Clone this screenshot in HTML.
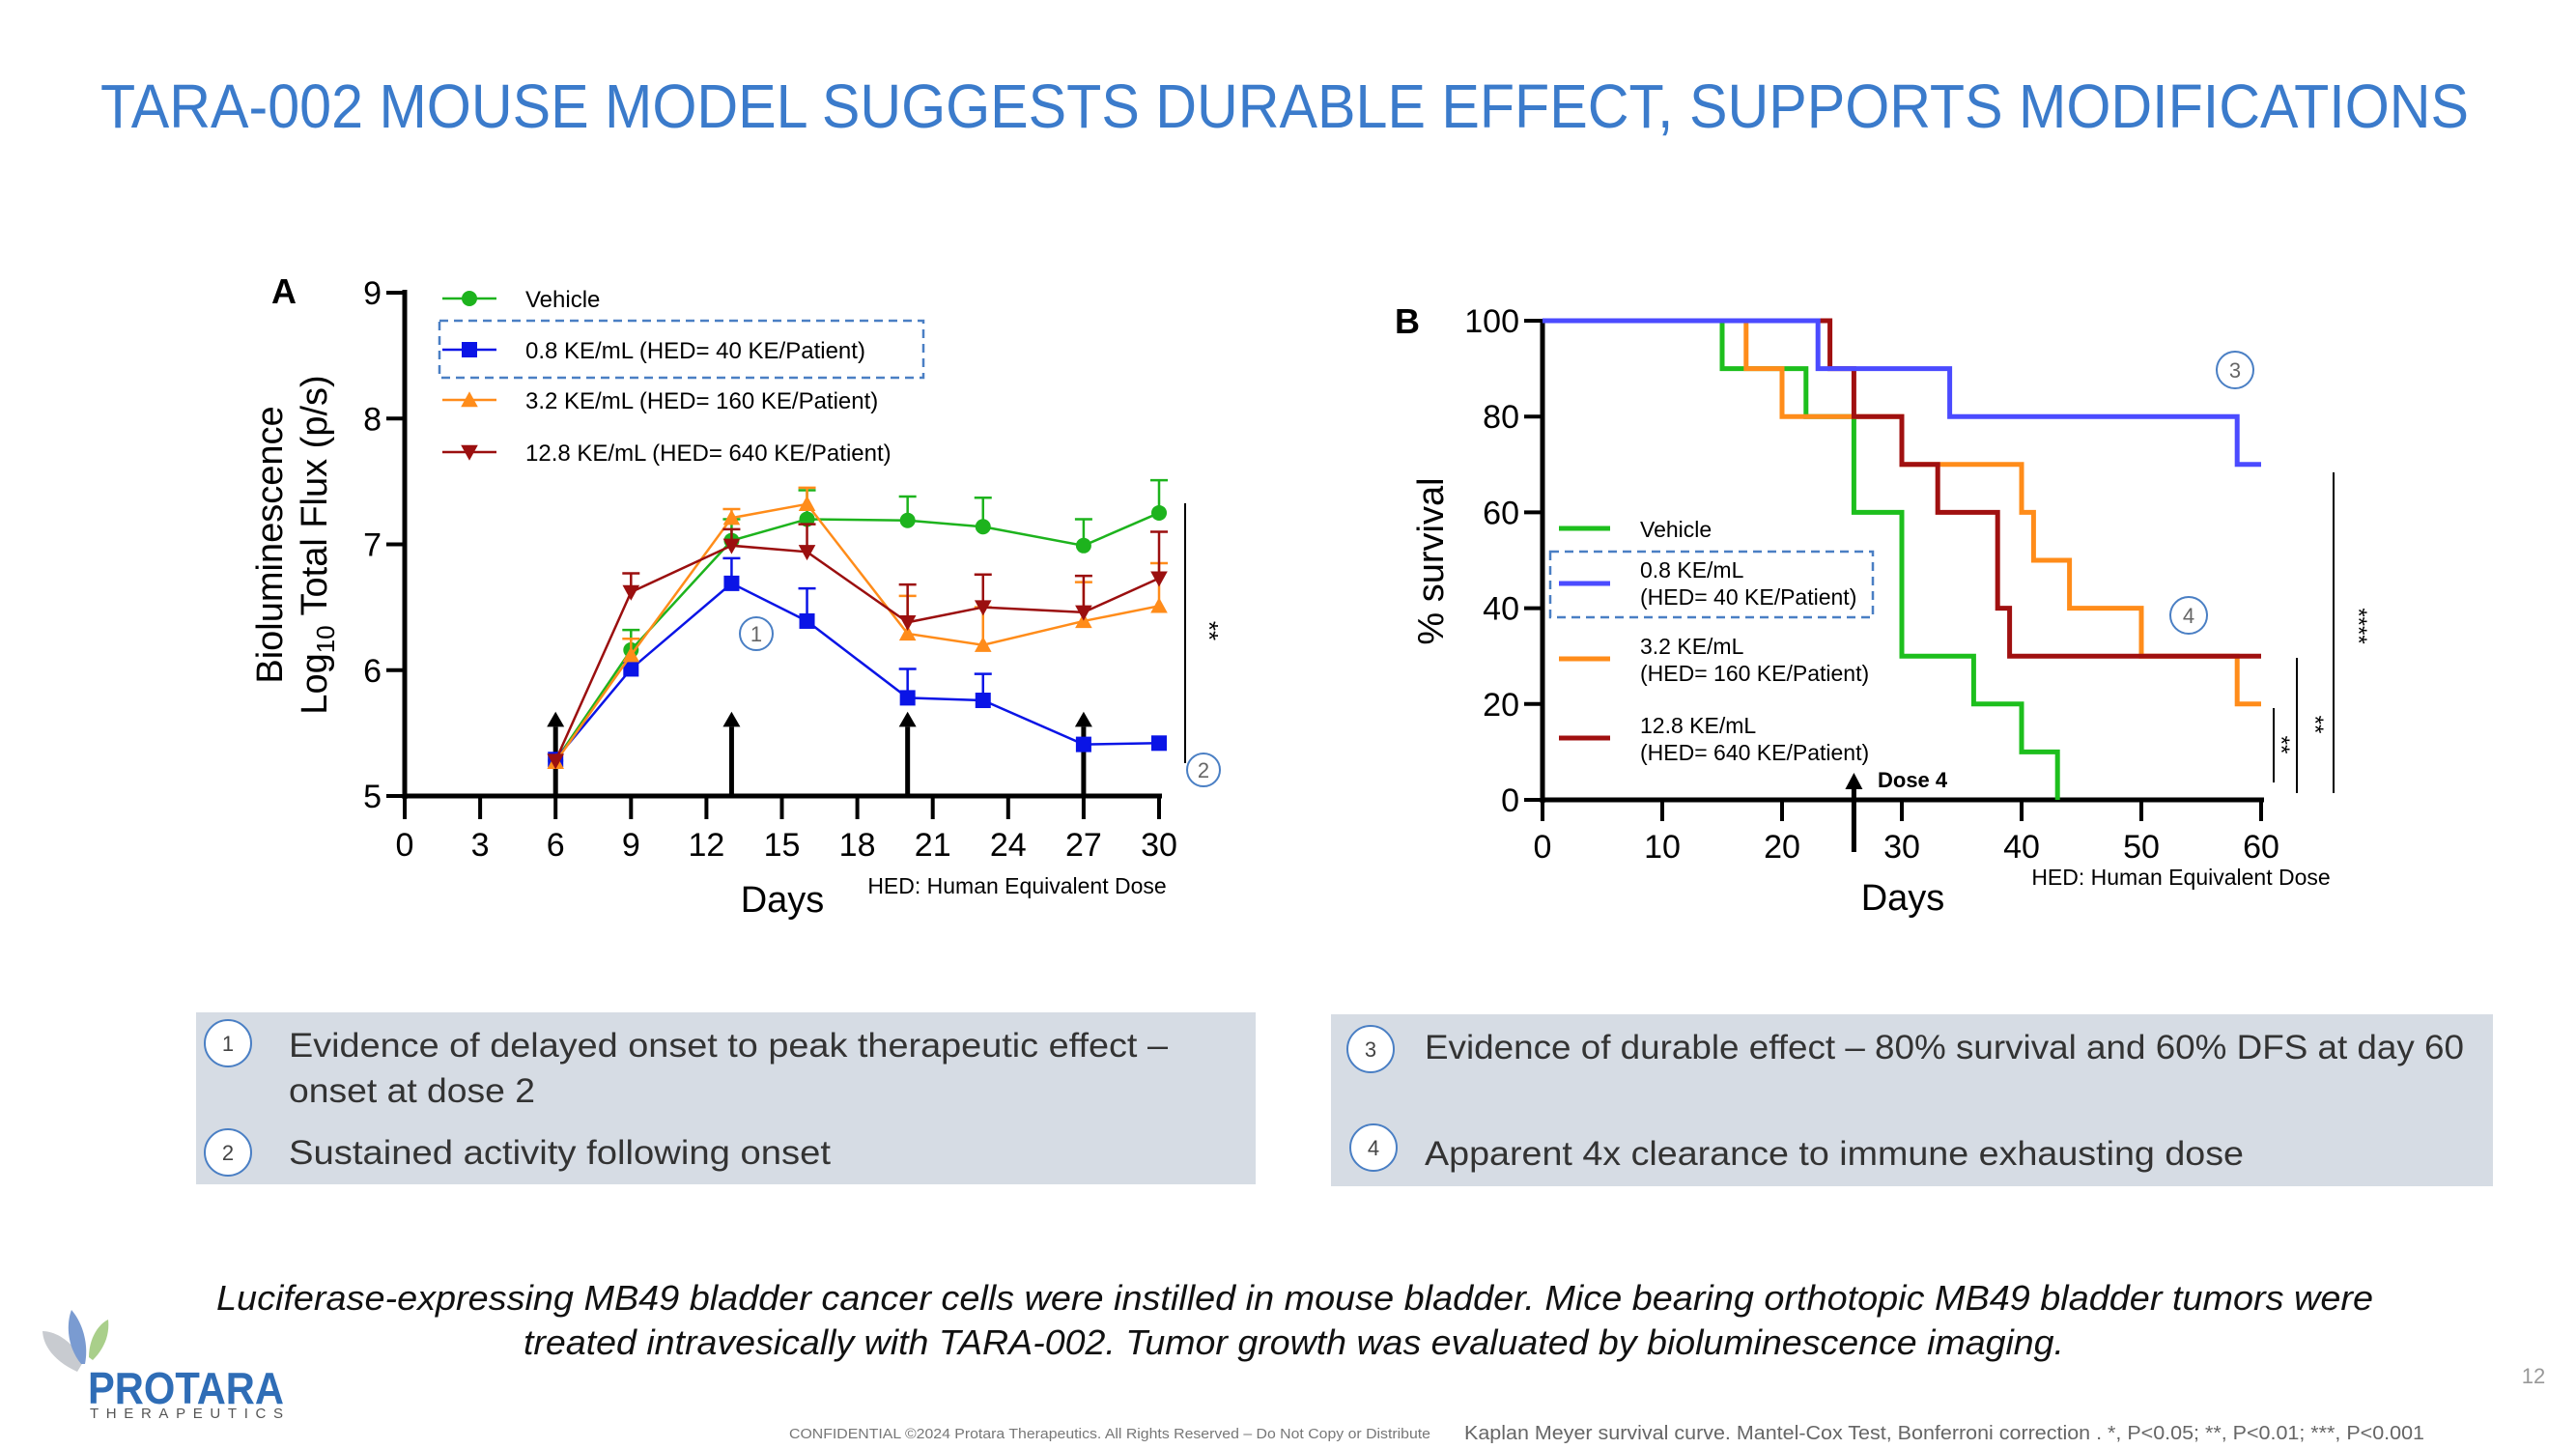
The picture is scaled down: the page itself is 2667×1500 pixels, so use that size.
<!DOCTYPE html>
<html><head><meta charset="utf-8"><style>
html,body{margin:0;padding:0;background:#fff;}
svg{display:block;font-family:"Liberation Sans",sans-serif;}
</style></head><body>
<svg id="page" width="2667" height="1500" viewBox="0 0 2667 1500" xmlns="http://www.w3.org/2000/svg">
<text x="104" y="132" font-size="64" fill="#3b7bcb" textLength="2452" lengthAdjust="spacingAndGlyphs">TARA-002 MOUSE MODEL SUGGESTS DURABLE EFFECT, SUPPORTS MODIFICATIONS</text>

<g id="chartA"></g>
<g id="chartB"></g>

<g>
<rect x="203" y="1048" width="1097" height="178" fill="#d6dce4"/>
<circle cx="236" cy="1080" r="24" fill="#fff" stroke="#4a7fc4" stroke-width="2"/>
<text x="236" y="1088" font-size="22" text-anchor="middle" fill="#444">1</text>
<text x="299" y="1094" font-size="35" fill="#333" textLength="910" lengthAdjust="spacingAndGlyphs">Evidence of delayed onset to peak therapeutic effect –</text>
<text x="299" y="1141" font-size="35" fill="#333" textLength="255" lengthAdjust="spacingAndGlyphs">onset at dose 2</text>
<circle cx="236" cy="1193" r="24" fill="#fff" stroke="#4a7fc4" stroke-width="2"/>
<text x="236" y="1201" font-size="22" text-anchor="middle" fill="#444">2</text>
<text x="299" y="1205" font-size="35" fill="#333" textLength="561" lengthAdjust="spacingAndGlyphs">Sustained activity following onset</text>
</g>
<g>
<rect x="1378" y="1050" width="1203" height="178" fill="#d6dce4"/>
<circle cx="1419" cy="1086" r="24" fill="#fff" stroke="#4a7fc4" stroke-width="2"/>
<text x="1419" y="1094" font-size="22" text-anchor="middle" fill="#444">3</text>
<text x="1475" y="1096" font-size="35" fill="#333" textLength="1076" lengthAdjust="spacingAndGlyphs">Evidence of durable effect – 80% survival and 60% DFS at day 60</text>
<circle cx="1422" cy="1188" r="24" fill="#fff" stroke="#4a7fc4" stroke-width="2"/>
<text x="1422" y="1196" font-size="22" text-anchor="middle" fill="#444">4</text>
<text x="1475" y="1206" font-size="35" fill="#333" textLength="848" lengthAdjust="spacingAndGlyphs">Apparent 4x clearance to immune exhausting dose</text>
</g>

<text x="224" y="1356" font-size="36" font-style="italic" fill="#111" textLength="2233" lengthAdjust="spacingAndGlyphs">Luciferase-expressing MB49 bladder cancer cells were instilled in mouse bladder. Mice bearing orthotopic MB49 bladder tumors were</text>
<text x="542" y="1402" font-size="36" font-style="italic" fill="#111" textLength="1595" lengthAdjust="spacingAndGlyphs">treated intravesically with TARA-002. Tumor growth was evaluated by bioluminescence imaging.</text>

<g>
<path d="M80 1420 C58 1410 45 1395 44 1378 C60 1378 78 1392 86 1410 Z" fill="#c8cbd0"/>
<path d="M84 1412 C70 1395 68 1372 74 1356 C86 1370 92 1392 88 1412 Z" fill="#7a9bd1"/>
<path d="M92 1405 C92 1388 100 1372 112 1366 C114 1384 106 1398 96 1408 Z" fill="#a9cf8a"/>
<text x="91" y="1453" font-size="46" fill="#2f6db6" font-weight="bold" textLength="203" lengthAdjust="spacingAndGlyphs">PROTARA</text>
<text x="93" y="1468" font-size="15" fill="#555" textLength="200" lengthAdjust="spacing">THERAPEUTICS</text>
</g>
<text x="2623" y="1432" font-size="22" fill="#999" text-anchor="middle">12</text>
<text x="817" y="1489" font-size="15" fill="#777" textLength="664" lengthAdjust="spacingAndGlyphs">CONFIDENTIAL ©2024 Protara Therapeutics. All Rights Reserved – Do Not Copy or Distribute</text>
<text x="1516" y="1490" font-size="20" fill="#666" textLength="994" lengthAdjust="spacingAndGlyphs">Kaplan Meyer survival curve. Mantel-Cox Test, Bonferroni correction . *, P&lt;0.05; **, P&lt;0.01; ***, P&lt;0.001</text>
</svg>
<script>
// ---------- Chart A data ----------
const daysA = [6, 9, 13, 16, 20, 23, 27, 30];
const vehicleMean = [5.28, 6.16, 7.03, 7.20, 7.19, 7.14, 6.99, 7.25];
const vehicleErr  = [5.28, 6.32, 7.20, 7.43, 7.38, 7.37, 7.20, 7.51];
const lowMean     = [5.29, 6.01, 6.69, 6.39, 5.78, 5.76, 5.41, 5.42];
const lowErr      = [5.29, 6.01, 6.89, 6.65, 6.01, 5.97, 5.41, 5.42];
const midMean     = [5.27, 6.12, 7.21, 7.32, 6.29, 6.20, 6.39, 6.51];
const midErr      = [5.27, 6.25, 7.28, 7.45, 6.59, 6.50, 6.70, 6.85];
const highMean    = [5.28, 6.62, 6.99, 6.94, 6.38, 6.50, 6.46, 6.73];
const highErr     = [5.28, 6.77, 7.12, 7.16, 6.68, 6.76, 6.75, 7.10];
const doseDays = [6, 13, 20, 27];
const xTicksA = [0, 3, 6, 9, 12, 15, 18, 21, 24, 27, 30];
const yTicksA = [5, 6, 7, 8, 9];
// ---------- Chart B data ----------
const vehTimes = [0, 15, 22, 26, 30, 36, 40, 43];
const vehSurv  = [100, 90, 80, 60, 30, 20, 10, 0];
const lowTimes = [0, 23, 34, 58, 60];
const lowSurv  = [100, 90, 80, 70, 70];
const midTimes = [0, 17, 20, 30, 40, 41, 44, 50, 58, 60];
const midSurv  = [100, 90, 80, 70, 60, 50, 40, 30, 20, 20];
const highTimes = [0, 24, 26, 30, 33, 38, 39, 60];
const highSurv  = [100, 90, 80, 70, 60, 40, 30, 30];
const xTicksB = [0, 10, 20, 30, 40, 50, 60];
const yTicksB = [0, 20, 40, 60, 80, 100];

const NS = "http://www.w3.org/2000/svg";
function mk(parent, tag, attrs, txt) {
  const e = document.createElementNS(NS, tag);
  for (const k in attrs) e.setAttribute(k, attrs[k]);
  if (txt !== undefined) e.textContent = txt;
  parent.appendChild(e);
  return e;
}

// ---------- Chart A ----------
(function () {
  const g = document.getElementById('chartA');
  const xA = d => 419 + d * (1200 - 419) / 30;
  const yA = v => 824 - (v - 5) * (824 - 303) / 4;
  let t = mk(g, 'text', {x: 294, y: 314, 'font-size': 36, 'font-weight': 'bold', 'text-anchor': 'middle'}, 'A');
  
  
  let ax = mk(g, 'line', {x1: 419, y1: 300, x2: 419, y2: 827, stroke: '#000', 'stroke-width': 5});
  
  
  ax = mk(g, 'line', {x1: 417, y1: 824, x2: 1203, y2: 824, stroke: '#000', 'stroke-width': 5});
  
  
  yTicksA.forEach(v => {
    mk(g, 'line', {x1: 400, y1: yA(v), x2: 419, y2: yA(v), stroke: '#000', 'stroke-width': 4});
    const l = mk(g, 'text', {x: 395, y: yA(v) + 12, 'font-size': 34, 'text-anchor': 'end'}, String(v));
    
    
  });
  xTicksA.forEach(v => {
    mk(g, 'line', {x1: xA(v), y1: 824, x2: xA(v), y2: 848, stroke: '#000', 'stroke-width': 4});
    const l = mk(g, 'text', {x: xA(v), y: 886, 'font-size': 34, 'text-anchor': 'middle'}, String(v));
    
    
  });
  t = mk(g, 'text', {x: 810, y: 944, 'font-size': 38, 'text-anchor': 'middle'}, 'Days');
  
  
  t = mk(g, 'text', {x: 1053, y: 925, 'font-size': 23, 'text-anchor': 'middle'}, 'HED: Human Equivalent Dose');
  
  
  t = mk(g, 'text', {x: 0, y: 0, 'font-size': 38, 'text-anchor': 'middle', transform: 'translate(292,564) rotate(-90)'}, 'Bioluminescence');
  
  
  t = mk(g, 'text', {x: 0, y: 0, 'font-size': 38, 'text-anchor': 'middle', transform: 'translate(338,564) rotate(-90)'});
  mk(t, 'tspan', {}, 'Log');
  mk(t, 'tspan', {'font-size': 26, dy: 8}, '10');
  mk(t, 'tspan', {dy: -8}, ' Total  Flux  (p/s)');
  doseDays.forEach(d => {
    const a = mk(g, 'line', {x1: xA(d), y1: yA(5), x2: xA(d), y2: yA(5.55), stroke: '#000', 'stroke-width': 5});
    
    
    mk(g, 'polygon', {points: `${xA(d)-9},${yA(5.55)} ${xA(d)+9},${yA(5.55)} ${xA(d)},${yA(5.67)}`, fill: '#000'});
  });
  const series = [
    {name: 'vehicle', mean: vehicleMean, err: vehicleErr, color: '#1db31d', marker: 'circle'},
    {name: 'dose-0-8', mean: lowMean, err: lowErr, color: '#0a14e6', marker: 'square'},
    {name: 'dose-3-2', mean: midMean, err: midErr, color: '#ff8c1a', marker: 'up'},
    {name: 'dose-12-8', mean: highMean, err: highErr, color: '#9b0f0f', marker: 'down'}
  ];
  function marker(parent, type, x, y, c, s) {
    if (type === 'circle') return mk(parent, 'circle', {cx: x, cy: y, r: s, fill: c});
    if (type === 'square') return mk(parent, 'rect', {x: x - s, y: y - s, width: 2 * s, height: 2 * s, fill: c});
    if (type === 'up') return mk(parent, 'polygon', {points: `${x-s*1.1},${y+s*0.9} ${x+s*1.1},${y+s*0.9} ${x},${y-s*1.1}`, fill: c});
    return mk(parent, 'polygon', {points: `${x-s*1.1},${y-s*0.9} ${x+s*1.1},${y-s*0.9} ${x},${y+s*1.1}`, fill: c});
  }
  series.forEach(s => {
    const sg = mk(g, 'g', {});
    
    
    daysA.forEach((d, i) => {
      if (s.err[i] > s.mean[i] + 0.01) {
        mk(sg, 'line', {x1: xA(d), y1: yA(s.mean[i]), x2: xA(d), y2: yA(s.err[i]), stroke: s.color, 'stroke-width': 2.5});
        mk(sg, 'line', {x1: xA(d) - 9, y1: yA(s.err[i]), x2: xA(d) + 9, y2: yA(s.err[i]), stroke: s.color, 'stroke-width': 2.5});
      }
    });
    const pts = daysA.map((d, i) => `${xA(d)},${yA(s.mean[i])}`).join(' ');
    const pl = mk(sg, 'polyline', {points: pts, fill: 'none', stroke: s.color, 'stroke-width': 2.5});
    
    
    daysA.forEach((d, i) => {
      const m = marker(sg, s.marker, xA(d), yA(s.mean[i]), s.color, 8);
      
      
    });
  });
  const lg = mk(g, 'g', {});
  
  
  const legY = [309, 362, 414, 468];
  const legT = ['Vehicle', '0.8 KE/mL (HED= 40 KE/Patient)', '3.2 KE/mL (HED= 160 KE/Patient)', '12.8 KE/mL (HED= 640 KE/Patient)'];
  series.forEach((s, i) => {
    const e = mk(lg, 'g', {});
    
    
    mk(e, 'line', {x1: 458, y1: legY[i], x2: 514, y2: legY[i], stroke: s.color, 'stroke-width': 2.5});
    marker(e, s.marker, 486, legY[i], s.color, 8);
    mk(e, 'text', {x: 544, y: legY[i] + 9, 'font-size': 24}, legT[i]);
  });
  mk(lg, 'rect', {x: 455, y: 332, width: 501, height: 59, fill: 'none', stroke: '#4a7fc4', 'stroke-width': 2.5, 'stroke-dasharray': '9,6'});
  mk(g, 'line', {x1: 1227, y1: 521, x2: 1227, y2: 790, stroke: '#000', 'stroke-width': 2});
  t = mk(g, 'text', {x: 0, y: 0, 'font-size': 26, 'text-anchor': 'middle', transform: 'translate(1243,653) rotate(90)'}, '**');
  
  
  [[783, 656, '1'], [1246, 797, '2']].forEach(c => {
    const cc = mk(g, 'circle', {cx: c[0], cy: c[1], r: 17, fill: '#fff', stroke: '#4a7fc4', 'stroke-width': 2});
    
    
    mk(g, 'text', {x: c[0], y: c[1] + 8, 'font-size': 22, 'text-anchor': 'middle', fill: '#666'}, c[2]);
  });
})();

// ---------- Chart B ----------
(function () {
  const g = document.getElementById('chartB');
  const xB = d => 1597 + d * (2341 - 1597) / 60;
  const yB = v => 828 - v * (828 - 332) / 100;
  let t = mk(g, 'text', {x: 1457, y: 345, 'font-size': 36, 'font-weight': 'bold', 'text-anchor': 'middle'}, 'B');
  
  
  let ax = mk(g, 'line', {x1: 1597, y1: 330, x2: 1597, y2: 831, stroke: '#000', 'stroke-width': 5});
  
  
  ax = mk(g, 'line', {x1: 1595, y1: 828, x2: 2344, y2: 828, stroke: '#000', 'stroke-width': 5});
  
  
  yTicksB.forEach(v => {
    mk(g, 'line', {x1: 1578, y1: yB(v), x2: 1597, y2: yB(v), stroke: '#000', 'stroke-width': 4});
    const l = mk(g, 'text', {x: 1573, y: yB(v) + 12, 'font-size': 34, 'text-anchor': 'end'}, String(v));
    
    
  });
  xTicksB.forEach(v => {
    mk(g, 'line', {x1: xB(v), y1: 828, x2: xB(v), y2: 850, stroke: '#000', 'stroke-width': 4});
    const l = mk(g, 'text', {x: xB(v), y: 888, 'font-size': 34, 'text-anchor': 'middle'}, String(v));
    
    
  });
  t = mk(g, 'text', {x: 1970, y: 942, 'font-size': 38, 'text-anchor': 'middle'}, 'Days');
  
  
  t = mk(g, 'text', {x: 2258, y: 916, 'font-size': 23, 'text-anchor': 'middle'}, 'HED: Human Equivalent Dose');
  
  
  t = mk(g, 'text', {x: 0, y: 0, 'font-size': 38, 'text-anchor': 'middle', transform: 'translate(1494,581) rotate(-90)'}, '% survival');
  
  
  const series = [
    {name: 'vehicle', tt: vehTimes, ss: vehSurv, color: '#1dbf1d'},
    {name: 'dose-3-2', tt: midTimes, ss: midSurv, color: '#ff8c1a'},
    {name: 'dose-12-8', tt: highTimes, ss: highSurv, color: '#a01010'},
    {name: 'dose-0-8', tt: lowTimes, ss: lowSurv, color: '#4b4bff'}
  ];
  series.forEach(s => {
    let d = `M${xB(s.tt[0])},${yB(s.ss[0])}`;
    for (let i = 1; i < s.tt.length; i++) {
      d += ` H${xB(s.tt[i])} V${yB(s.ss[i])}`;
    }
    const p = mk(g, 'path', {d: d, fill: 'none', stroke: s.color, 'stroke-width': 5});
    
    
  });
  const ar = mk(g, 'line', {x1: xB(26), y1: 882, x2: xB(26), y2: 815, stroke: '#000', 'stroke-width': 5});
  
  
  mk(g, 'polygon', {points: `${xB(26)-9},817 ${xB(26)+9},817 ${xB(26)},800`, fill: '#000'});
  t = mk(g, 'text', {x: 1944, y: 815, 'font-size': 22, 'font-weight': 'bold'}, 'Dose 4');
  
  
  const lg = mk(g, 'g', {});
  
  
  const ent = [
    ['vehicle', '#1dbf1d', 547, ['Vehicle'], [556]],
    ['dose-0-8', '#4b4bff', 604, ['0.8 KE/mL', '(HED= 40 KE/Patient)'], [598, 626]],
    ['dose-3-2', '#ff8c1a', 682, ['3.2 KE/mL', '(HED= 160 KE/Patient)'], [677, 705]],
    ['dose-12-8', '#a01010', 764, ['12.8 KE/mL', '(HED= 640 KE/Patient)'], [759, 787]]
  ];
  ent.forEach(e => {
    const eg = mk(lg, 'g', {});
    
    
    mk(eg, 'line', {x1: 1614, y1: e[2], x2: 1667, y2: e[2], stroke: e[1], 'stroke-width': 5});
    e[3].forEach((s, i) => mk(eg, 'text', {x: 1698, y: e[4][i], 'font-size': 23}, s));
  });
  mk(lg, 'rect', {x: 1605, y: 571, width: 334, height: 68, fill: 'none', stroke: '#4a7fc4', 'stroke-width': 2.5, 'stroke-dasharray': '9,6'});
  [[2354, 733, 810, 2362, 771, '**'], [2378, 681, 821, 2397, 750, '**'], [2416, 489, 821, 2442, 648, '****']].forEach(s => {
    const l = mk(g, 'line', {x1: s[0], y1: s[1], x2: s[0], y2: s[2], stroke: '#000', 'stroke-width': 2});
    
    
    mk(g, 'text', {x: 0, y: 0, 'font-size': 24, 'text-anchor': 'middle', transform: `translate(${s[3]-8},${s[4]}) rotate(90)`}, s[5]);
  });
  [[2314, 383, '3'], [2266, 637, '4']].forEach(c => {
    const cc = mk(g, 'circle', {cx: c[0], cy: c[1], r: 19, fill: '#fff', stroke: '#4a7fc4', 'stroke-width': 2});
    
    
    mk(g, 'text', {x: c[0], y: c[1] + 8, 'font-size': 22, 'text-anchor': 'middle', fill: '#666'}, c[2]);
  });
})();
</script>
</body></html>
